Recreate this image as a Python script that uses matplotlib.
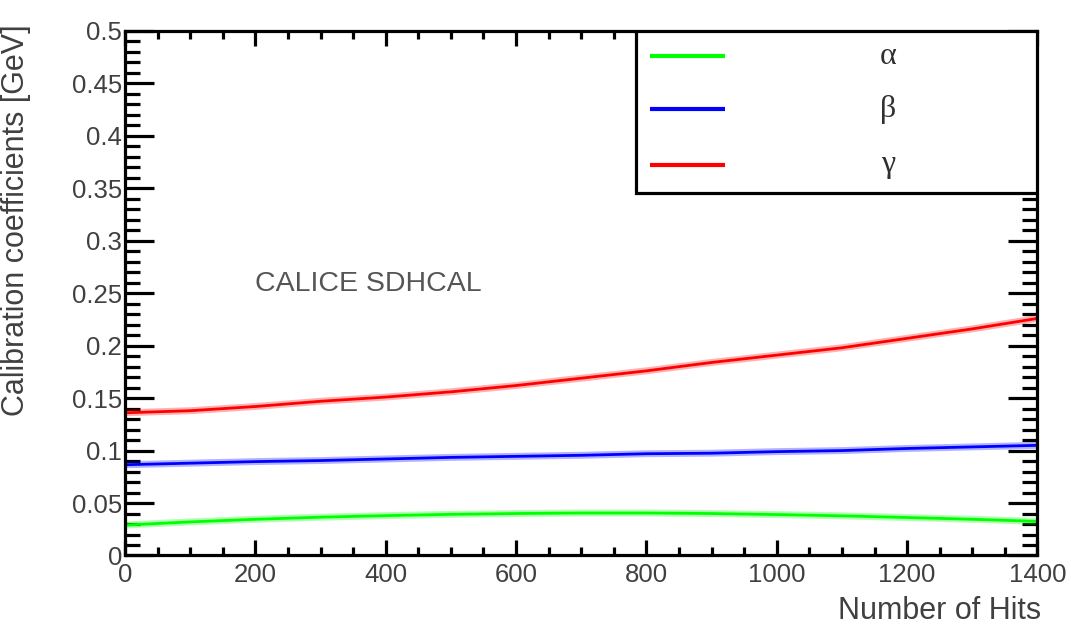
import matplotlib
matplotlib.use("Agg")
import matplotlib.pyplot as plt
from matplotlib.ticker import MultipleLocator, FormatStrFormatter
from matplotlib.patches import Rectangle
import numpy as np

plt.rcParams['font.family'] = ['Liberation Sans', 'DejaVu Sans']

# calibration coefficients vs number of hits
hits = [0, 100, 200, 300, 400, 500, 600, 700, 800, 900, 1000, 1100, 1200, 1300, 1400]
alpha = [0.0290, 0.0320, 0.0345, 0.0365, 0.0380, 0.0392, 0.0400, 0.0405,
         0.0405, 0.0400, 0.0390, 0.0378, 0.0362, 0.0345, 0.0325]
beta = [0.0865, 0.0880, 0.0895, 0.0905, 0.0920, 0.0935, 0.0945, 0.0955,
        0.0970, 0.0975, 0.0990, 0.1000, 0.1020, 0.1035, 0.1050]
gamma = [0.136, 0.138, 0.142, 0.147, 0.151, 0.156, 0.162, 0.169,
         0.176, 0.184, 0.191, 0.198, 0.207, 0.216, 0.226]

names = ["\u03b1", "\u03b2", "\u03b3"]
colors = ["#00ff00", "#0000ff", "#ff0000"]

txtcol = "#404040"

fig = plt.figure(figsize=(10.71, 6.36), dpi=100)
ax = fig.add_axes([0.1167, 0.1266, 0.852, 0.8247])

for ys, c in zip([alpha, beta, gamma], colors):
    ax.plot(hits, ys, color=c, lw=5, alpha=0.3, solid_capstyle='butt')
    ax.plot(hits, ys, color=c, lw=2.0, solid_capstyle='butt')

ax.set_xlim(0, 1400)
ax.set_ylim(0, 0.5)

ax.xaxis.set_major_locator(MultipleLocator(200))
ax.xaxis.set_minor_locator(MultipleLocator(50))
ax.yaxis.set_major_locator(MultipleLocator(0.05))
ax.yaxis.set_minor_locator(MultipleLocator(0.01))
ax.yaxis.set_major_formatter(FormatStrFormatter('%g'))

for s in ax.spines.values():
    s.set_linewidth(2.3)

ax.tick_params(axis='both', which='both', direction='in', width=2.3,
               top=True, right=True, labelsize=18.5, labelcolor=txtcol)
ax.tick_params(axis='y', which='major', length=21, pad=2)
ax.tick_params(axis='y', which='minor', length=10.5)
ax.tick_params(axis='x', which='major', length=10.5, pad=5.5)
ax.tick_params(axis='x', which='minor', length=5.5)

ax.set_xlabel("Number of Hits", fontsize=22, color=txtcol, loc='right')
ax.xaxis.set_label_coords(1.004, -0.078)
ax.set_ylabel("Calibration coefficients [GeV]", fontsize=22, color=txtcol, loc='top')
ax.yaxis.set_label_coords(-0.103, 1.012)

ax.text(0.143, 0.518, "CALICE SDHCAL", transform=ax.transAxes, fontsize=20.5,
        color="#555555", ha='left', va='center')

# legend box
box = Rectangle((0.560, 0.691), 0.440, 0.309, transform=ax.transAxes,
                facecolor='white', edgecolor='black', lw=2.3, zorder=5)
ax.add_patch(box)
for i, (n, c) in enumerate(zip(names, colors)):
    yy = [0.952, 0.851, 0.745][i]
    ax.plot([0.575, 0.658], [yy, yy], color=c, lw=3.0, transform=ax.transAxes,
            zorder=6, solid_capstyle='butt')
    ax.text(0.836, yy, n, transform=ax.transAxes, fontsize=23,
            family=['Liberation Serif', 'DejaVu Serif'], color="#303030",
            ha='center', va='center', zorder=6)

fig.savefig("out.png", dpi=100)
